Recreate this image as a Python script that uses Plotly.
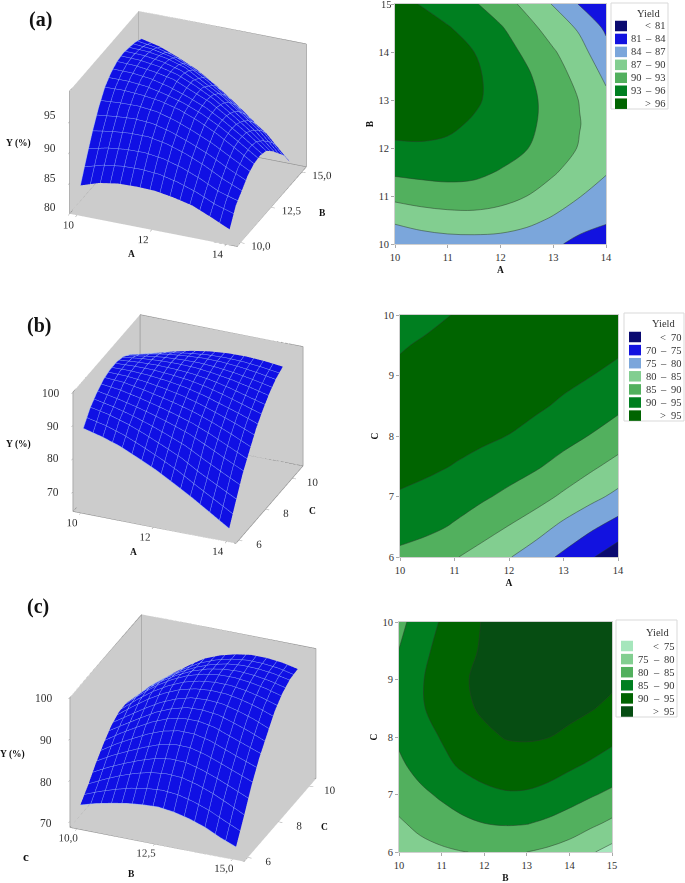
import plotly.graph_objects as go

W, H = 685, 883
A_vals = [10, 10.5, 11, 11.5, 12, 12.5, 13, 13.5, 14]
B_vals = [10, 10.5, 11, 11.5, 12, 12.5, 13, 13.5, 14, 14.5, 15]
C_vals = [6, 6.5, 7, 7.5, 8, 8.5, 9, 9.5, 10]

# Yield, rows = B, columns = A
Z_AB = [
    [84.2, 85.2, 85.7, 85.8, 85.7, 85.2, 84.5, 83.2, 81.8],
    [87.6, 88.4, 88.8, 88.9, 88.6, 87.8, 86.6, 85.2, 84.5],
    [90.8, 91.3, 91.6, 91.6, 91.0, 90.0, 88.7, 87.1, 85.8],
    [93.5, 93.8, 94.0, 93.7, 92.8, 91.6, 90.3, 88.7, 87.2],
    [95.6, 95.7, 95.5, 95.1, 94.3, 93.1, 91.6, 89.8, 87.9],
    [96.8, 96.8, 96.5, 95.7, 94.8, 93.6, 92.0, 90.1, 88.1],
    [97.5, 97.4, 97.0, 96.4, 95.1, 93.8, 91.9, 89.9, 87.7],
    [97.7, 97.6, 97.2, 96.4, 95.1, 93.4, 91.3, 89.1, 86.5],
    [97.5, 97.4, 96.9, 96.0, 94.2, 92.5, 90.3, 88.0, 85.0],
    [97.2, 96.9, 96.2, 94.9, 93.3, 91.0, 88.7, 86.6, 83.5],
    [96.6, 95.9, 94.7, 93.3, 91.4, 89.2, 86.8, 83.8, 81.2],
]
# Yield, rows = C, columns = A
Z_AC = [
    [88.6, 87.2, 85.4, 82.9, 80.3, 77.2, 74.0, 70.5, 67.0],
    [92.3, 91.2, 89.5, 87.3, 84.8, 82.2, 78.8, 75.9, 73.0],
    [94.6, 93.5, 92.2, 90.7, 88.9, 86.9, 84.2, 81.4, 78.8],
    [96.3, 95.9, 94.8, 93.5, 92.1, 90.5, 88.4, 85.9, 83.3],
    [97.0, 97.0, 96.6, 95.9, 94.9, 93.4, 91.6, 89.8, 87.7],
    [97.0, 97.3, 97.4, 97.1, 96.6, 95.7, 94.3, 92.6, 91.0],
    [96.2, 97.0, 97.5, 97.7, 97.6, 97.0, 96.2, 95.1, 93.8],
    [94.5, 95.8, 96.9, 97.5, 97.9, 97.9, 97.5, 96.8, 95.9],
    [92.1, 93.7, 95.2, 96.5, 97.4, 97.9, 98.0, 97.7, 97.1],
]
# Yield, rows = C, columns = B
Z_BC = [
    [77.3, 78.4, 79.2, 79.9, 80.3, 80.5, 80.0, 79.1, 77.8, 75.5, 73.3],
    [79.4, 81.2, 82.8, 84.1, 85.0, 85.4, 85.2, 84.2, 82.8, 81.0, 79.1],
    [82.0, 84.0, 85.7, 87.3, 88.7, 89.5, 89.4, 88.4, 87.0, 85.5, 84.0],
    [84.1, 86.6, 88.7, 90.7, 92.2, 93.0, 93.0, 92.2, 90.7, 89.3, 88.0],
    [85.8, 88.0, 90.3, 92.5, 94.1, 95.2, 95.4, 95.1, 94.0, 92.7, 91.0],
    [86.5, 89.4, 92.0, 94.1, 95.7, 96.6, 97.0, 96.9, 96.3, 95.3, 94.0],
    [86.3, 89.5, 92.3, 94.5, 96.2, 97.3, 97.9, 98.0, 97.6, 96.9, 95.9],
    [85.1, 88.7, 91.4, 93.7, 95.6, 97.0, 97.9, 98.3, 98.2, 97.8, 97.0],
    [83.5, 87.6, 90.4, 93.0, 95.4, 96.9, 97.9, 98.5, 98.5, 98.1, 97.3],
]
# Yield, rows = C, columns = B
Z_BC_SURF = [
    [73.3, 74.4, 75.2, 75.9, 76.3, 76.5, 76.0, 75.1, 73.8, 72.0, 70.5],
    [75.9, 77.7, 79.3, 80.6, 81.5, 81.9, 81.7, 80.7, 79.3, 77.5, 75.6],
    [79.0, 81.0, 82.7, 84.3, 85.7, 86.5, 86.4, 85.4, 84.0, 82.5, 81.0],
    [81.6, 84.1, 86.2, 88.2, 89.7, 90.5, 90.5, 89.7, 88.2, 86.8, 85.5],
    [83.8, 86.0, 88.3, 90.5, 92.1, 93.2, 93.4, 93.1, 92.0, 90.7, 89.0],
    [85.0, 87.9, 90.5, 92.6, 94.2, 95.1, 95.5, 95.4, 94.8, 93.8, 92.5],
    [85.1, 88.3, 91.1, 93.3, 95.0, 96.1, 96.7, 96.8, 96.4, 95.7, 94.7],
    [84.1, 87.7, 90.4, 92.7, 94.6, 96.0, 96.9, 97.3, 97.2, 96.8, 96.0],
    [82.5, 86.6, 89.4, 92.0, 94.4, 95.9, 96.9, 97.5, 97.5, 97.1, 96.3],
]

SERIF = "Liberation Serif"
TXT = "#333333"
BLUE_GREEN = ["#0a0a70", "#1212e0", "#7ba6db", "#82ce90", "#52b05e", "#007f20", "#006400"]
GREEN = ["#a6e6bc", "#82ce90", "#52b05e", "#007f20", "#006400", "#064d12"]

LEG_A = [("", "<", "81"), ("81", "–", "84"), ("84", "–", "87"), ("87", "–", "90"),
         ("90", "–", "93"), ("93", "–", "96"), ("", ">", "96")]
LEG_B = [("", "<", "70"), ("70", "–", "75"), ("75", "–", "80"), ("80", "–", "85"),
         ("85", "–", "90"), ("90", "–", "95"), ("", ">", "95")]
LEG_C = [("", "<", "75"), ("75", "–", "80"), ("80", "–", "85"), ("85", "–", "90"),
         ("90", "–", "95"), ("", ">", "95")]

fig = go.Figure()


def px(x):
    return x / W


def py(y):
    return 1 - y / H


shapes, annots = [], []


def text(x, y, s, size=11, color=TXT):
    annots.append(dict(x=px(x), y=py(y), xref="paper", yref="paper", text=s, showarrow=False,
                       xanchor="center", yanchor="middle",
                       font=dict(family=SERIF, size=size, color=color)))


def scene3d(name, x, y, z, xr, yr, zr, xt, xtt, yt, ytt, zt, dom, eye, cz, nx, ny, k, aspz):
    fig.add_trace(go.Surface(x=x, y=y, z=z, scene=name, showscale=False,
                             colorscale=[[0, "#1010e4"], [1, "#1010e4"]],
                             lighting=dict(ambient=1, diffuse=0, specular=0, roughness=1, fresnel=0),
                             contours=dict(
                                 x=dict(show=True, start=x[0], end=x[-1], size=(x[-1] - x[0]) / nx,
                                        color="#8fa8f5", width=1, highlight=False),
                                 y=dict(show=True, start=y[0], end=y[-1], size=(y[-1] - y[0]) / ny,
                                        color="#8fa8f5", width=1, highlight=False),
                                 z=dict(highlight=False)),
                             hoverinfo="skip"))
    x0, x1, y0, y1, z0, z1 = xr[0], xr[1], yr[0], yr[1], zr[0], zr[1]
    edges = [((x0, y0, z0), (x0, y0, z1)), ((x0, y0, z1), (x0, y1, z1)), ((x0, y1, z0), (x0, y1, z1)),
             ((x0, y1, z1), (x1, y1, z1)), ((x1, y1, z0), (x1, y1, z1)), ((x0, y0, z0), (x0, y1, z0)),
             ((x0, y1, z0), (x1, y1, z0)), ((x1, y1, z0), (x1, y0, z0)), ((x1, y0, z0), (x0, y0, z0))]
    ex, ey, ez = [], [], []
    for a, b in edges:
        ex += [a[0], b[0], None]
        ey += [a[1], b[1], None]
        ez += [a[2], b[2], None]
    fig.add_trace(go.Scatter3d(x=ex, y=ey, z=ez, scene=name, mode="lines",
                               line=dict(color="#8c8c8c", width=1.2), showlegend=False, hoverinfo="skip"))
    common = dict(showgrid=False, zeroline=False, showspikes=False, showbackground=True,
                  backgroundcolor="#cccccc", showline=False, ticks="outside", ticklen=4,
                  tickcolor="#999999", tickwidth=1, tickangle=0, title=dict(text=""),
                  tickfont=dict(family=SERIF, size=11.5, color=TXT))
    fig.update_layout({name: dict(
        domain=dict(x=[px(dom[0]), px(dom[2])], y=[py(dom[3]), py(dom[1])]),
        bgcolor="rgba(0,0,0,0)",
        aspectmode="manual", aspectratio=dict(x=k, y=k, z=k * aspz),
        camera=dict(eye=dict(x=eye[0], y=eye[1], z=eye[2] + cz), center=dict(x=0, y=0, z=cz),
                    up=dict(x=0, y=0, z=1), projection=dict(type="orthographic")),
        xaxis=dict(common, range=xr, tickvals=xt, ticktext=xtt),
        yaxis=dict(common, range=yr, tickvals=yt, ticktext=ytt),
        zaxis=dict(common, range=zr, tickvals=zt, showticklabels=False),
    )})


def contour(idx, x, y, z, start, end, size, colors, box, xlab, ylab):
    xa, ya = f"x{idx}", f"y{idx}"
    n = len(colors)
    cs = []
    for i, c in enumerate(colors):
        cs += [[i / n, c], [(i + 1) / n, c]]
    fig.add_trace(go.Contour(x=x, y=y, z=z, xaxis=xa, yaxis=ya, showscale=False,
                             autocontour=False, contours=dict(start=start, end=end, size=size, coloring="fill"),
                             colorscale=cs, zmin=start - size, zmax=end + size,
                             line=dict(color="#2a3a2a", width=0.5, smoothing=1.0), hoverinfo="skip"))
    ax = dict(showgrid=False, zeroline=False, ticks="outside", ticklen=3, tickcolor="#aaaaaa",
              showline=True, linecolor="#cfcfcf", linewidth=1, mirror=True,
              tickfont=dict(family=SERIF, size=10.5, color=TXT))
    tf = dict(family=SERIF, size=9.5, color="#111111")
    fig.update_layout({
        f"xaxis{idx}": dict(ax, domain=[px(box[0]), px(box[2])], anchor=ya, range=[x[0], x[-1]], dtick=1,
                            title=dict(text=f"<b>{xlab}</b>", font=tf, standoff=4)),
        f"yaxis{idx}": dict(ax, domain=[py(box[3]), py(box[1])], anchor=xa, range=[y[0], y[-1]], dtick=1,
                            title=dict(text=f"<b>{ylab}</b>", font=tf, standoff=3)),
    })


def legend(box, sw, first, step, tx, title_xy, rows, colors, swh=10.5):
    shapes.append(dict(type="rect", xref="paper", yref="paper", x0=px(box[0]), x1=px(box[2]),
                       y0=py(box[3]), y1=py(box[1]), line=dict(color="#d9d9d9", width=1), fillcolor="white"))
    text(title_xy[0], title_xy[1], "Yield", size=10.5)
    for i, (row, c) in enumerate(zip(rows, colors)):
        yc = first + i * step
        shapes.append(dict(type="rect", xref="paper", yref="paper", x0=px(sw[0]), x1=px(sw[1]),
                           y0=py(yc + swh / 2), y1=py(yc - swh / 2), line=dict(width=0), fillcolor=c))
        for xx, s in zip(tx, row):
            if s:
                text(xx, yc, s, size=10.5)


EYE = (1.0, -2.43, 1.42)

scene3d("scene", A_vals, B_vals, Z_AB, [9.8, 14.3], [9.72, 15.38], [80, 100],
        [10, 12, 14], ["10", "12", "14"], [10, 12.5, 15], ["10,0", "12,5", "15,0"], [80, 85, 90, 95],
        (18, 0, 358, 272), EYE, -0.06, 15, 15, 1.334, 0.77)
scene3d("scene2", A_vals, C_vals, Z_AC, [9.79, 14.26], [5.8, 10.8], [64, 100],
        [10, 12, 14], ["10", "12", "14"], [6, 8, 10], ["6", "8", "10"], [70, 80, 90, 100],
        (18, 279, 358, 579), EYE, 0, 15, 15, 1.175, 0.77)
scene3d("scene3", B_vals, C_vals, Z_BC_SURF, [9.78, 15.38], [5.77, 10.42], [68.5, 100],
        [10, 12.5, 15], ["10,0", "12,5", "15,0"], [6, 8, 10], ["6", "8", "10"], [70, 80, 90, 100],
        (23, 593, 363, 883), EYE, 0, 15, 15, 1.30, 0.785)

contour(4, A_vals, B_vals, Z_AB, 81, 96, 3, BLUE_GREEN, (395, 4, 606, 244), "A", "B")
contour(5, A_vals, C_vals, Z_AC, 70, 95, 5, BLUE_GREEN, (400, 315, 618, 557), "A", "C")
contour(6, B_vals, C_vals, Z_BC, 75, 95, 5, GREEN, (399, 622, 612, 852), "B", "C")

legend((611, 3, 668, 109), (615, 627), 26, 12.95, (636, 648, 660), (648, 13), LEG_A, BLUE_GREEN)
legend((624, 313, 684, 421), (629, 641), 337, 13.1, (651, 663, 676), (663, 323), LEG_B, BLUE_GREEN)
legend((616, 620, 677, 717), (621, 633), 646, 13.1, (643, 656, 669), (657, 632), LEG_C, GREEN)

text(40, 20, "<b>(a)</b>", size=20, color="#111111")
text(39, 325, "<b>(b)</b>", size=20, color="#111111")
text(38, 606, "<b>(c)</b>", size=20, color="#111111")
text(26, 856, "<b>c</b>", size=13, color="#111111")
text(386, 5, "15", size=10.5)
for tx_, ty_, lab in [(18, 143, "Y (%)"), (131, 254, "A"), (322, 213, "B"),
                      (18, 444, "Y (%)"), (133, 552, "A"), (312, 511, "C"),
                      (12, 754, "Y (%)"), (131, 874, "B"), (324, 827, "C")]:
    text(tx_, ty_, f"<b>{lab}</b>", size=9.5, color="#111111")
for tx_, ty_, lab in [(50, 115, "95"), (50, 148, "90"), (50, 178, "85"), (50, 207, "80"),
                      (51, 393, "100"), (53, 426, "90"), (53, 458, "80"), (53, 492, "70"),
                      (44, 698, "100"), (46, 740, "90"), (46, 782, "80"), (46, 823, "70")]:
    text(tx_, ty_, lab, size=11.5)

fig.update_layout(width=W, height=H, autosize=False,
                  margin=dict(l=0, r=0, t=0, b=0, pad=0, autoexpand=False),
                  paper_bgcolor="white", plot_bgcolor="white", showlegend=False,
                  shapes=shapes, annotations=annots)
POST = ("document.body.style.margin='0px';"
        "var g=document.getElementById('{plot_id}');"
        "g.parentElement.style.width='685px';g.parentElement.style.height='883px';"
        "Plotly.relayout(g,{width:685,height:883});")
fig.write_html("out.html", post_script=POST, config=dict(responsive=False, displayModeBar=False))
